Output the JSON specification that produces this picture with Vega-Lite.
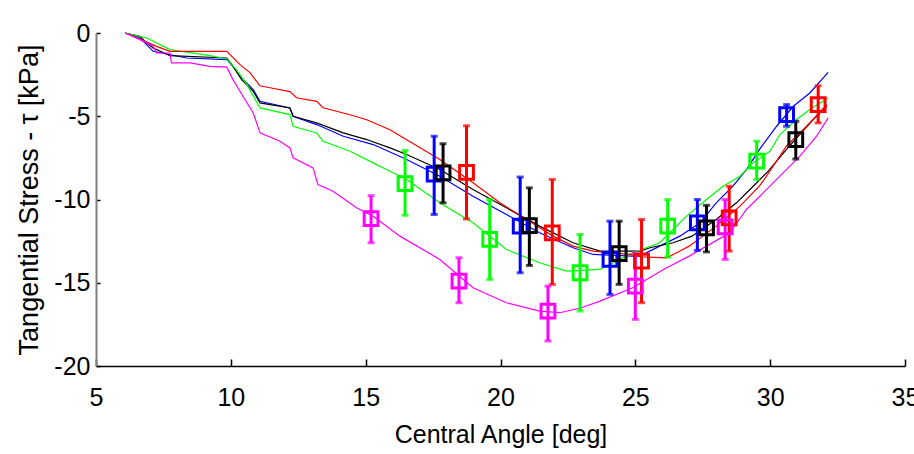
{
  "$schema": "https://vega.github.io/schema/vega-lite/v6.json",
  "autosize": "none",
  "width": 809,
  "height": 333,
  "padding": {"left": 96, "top": 33, "right": 9, "bottom": 88},
  "background": "white",
  "config": {"view": {"stroke": null}},
  "datasets": {
    "curves": [
      {"series": "blue", "angle": 6.08, "stress": 0}, {"series": "blue", "angle": 6.63, "stress": -0.3}, {"series": "blue", "angle": 7.12, "stress": -1.1}, {"series": "blue", "angle": 8.36, "stress": -1.5}, {"series": "blue", "angle": 9.85, "stress": -1.6}, {"series": "blue", "angle": 10.08, "stress": -2.0}, {"series": "blue", "angle": 10.4, "stress": -2.7}, {"series": "blue", "angle": 10.83, "stress": -3.4}, {"series": "blue", "angle": 11.08, "stress": -4.1}, {"series": "blue", "angle": 12.19, "stress": -4.5}, {"series": "blue", "angle": 12.31, "stress": -5.0}, {"series": "blue", "angle": 13.18, "stress": -5.5}, {"series": "blue", "angle": 14.17, "stress": -6.2}, {"series": "blue", "angle": 15.28, "stress": -6.7}, {"series": "blue", "angle": 16.52, "stress": -7.6}, {"series": "blue", "angle": 17.75, "stress": -8.6}, {"series": "blue", "angle": 18.98, "stress": -9.8}, {"series": "blue", "angle": 20.22, "stress": -10.9}, {"series": "blue", "angle": 21.45, "stress": -12.0}, {"series": "blue", "angle": 22.69, "stress": -12.9}, {"series": "blue", "angle": 23.43, "stress": -13.3}, {"series": "blue", "angle": 24.9, "stress": -13.4}, {"series": "blue", "angle": 25.17, "stress": -13.4}, {"series": "blue", "angle": 25.9, "stress": -12.8}, {"series": "blue", "angle": 26.65, "stress": -12.2}, {"series": "blue", "angle": 27.4, "stress": -11.4}, {"series": "blue", "angle": 28.0, "stress": -10.2}, {"series": "blue", "angle": 28.62, "stress": -9.2}, {"series": "blue", "angle": 29.12, "stress": -8.2}, {"series": "blue", "angle": 29.6, "stress": -7.0}, {"series": "blue", "angle": 30.24, "stress": -5.6}, {"series": "blue", "angle": 30.86, "stress": -4.4}, {"series": "blue", "angle": 31.47, "stress": -3.6}, {"series": "blue", "angle": 32.15, "stress": -2.37},
      {"series": "black", "angle": 6.08, "stress": 0}, {"series": "black", "angle": 6.63, "stress": -0.2}, {"series": "black", "angle": 6.88, "stress": -0.6}, {"series": "black", "angle": 7.12, "stress": -0.9}, {"series": "black", "angle": 7.74, "stress": -1.36}, {"series": "black", "angle": 9.85, "stress": -1.5}, {"series": "black", "angle": 10.08, "stress": -2.0}, {"series": "black", "angle": 10.4, "stress": -2.8}, {"series": "black", "angle": 10.83, "stress": -3.5}, {"series": "black", "angle": 11.08, "stress": -4.2}, {"series": "black", "angle": 12.19, "stress": -4.5}, {"series": "black", "angle": 12.31, "stress": -5.0}, {"series": "black", "angle": 13.18, "stress": -5.4}, {"series": "black", "angle": 14.17, "stress": -6.0}, {"series": "black", "angle": 15.04, "stress": -6.4}, {"series": "black", "angle": 15.9, "stress": -6.9}, {"series": "black", "angle": 16.52, "stress": -7.3}, {"series": "black", "angle": 17.75, "stress": -8.2}, {"series": "black", "angle": 18.98, "stress": -9.4}, {"series": "black", "angle": 20.22, "stress": -10.5}, {"series": "black", "angle": 21.45, "stress": -11.6}, {"series": "black", "angle": 22.69, "stress": -12.6}, {"series": "black", "angle": 23.69, "stress": -13.1}, {"series": "black", "angle": 25.17, "stress": -13.1}, {"series": "black", "angle": 25.54, "stress": -12.9}, {"series": "black", "angle": 26.4, "stress": -12.6}, {"series": "black", "angle": 27.1, "stress": -12.2}, {"series": "black", "angle": 28.0, "stress": -11.2}, {"series": "black", "angle": 28.75, "stress": -10.2}, {"series": "black", "angle": 29.25, "stress": -9.4}, {"series": "black", "angle": 29.93, "stress": -8.3}, {"series": "black", "angle": 30.6, "stress": -7.0}, {"series": "black", "angle": 31.2, "stress": -5.9}, {"series": "black", "angle": 31.6, "stress": -5.2}, {"series": "black", "angle": 32.1, "stress": -4.4},
      {"series": "green", "angle": 6.08, "stress": 0}, {"series": "green", "angle": 6.88, "stress": -0.3}, {"series": "green", "angle": 7.74, "stress": -1.0}, {"series": "green", "angle": 9.23, "stress": -1.36}, {"series": "green", "angle": 9.85, "stress": -1.56}, {"series": "green", "angle": 10.2, "stress": -2.2}, {"series": "green", "angle": 10.6, "stress": -3.1}, {"series": "green", "angle": 11.08, "stress": -4.5}, {"series": "green", "angle": 12.19, "stress": -4.9}, {"series": "green", "angle": 12.31, "stress": -5.6}, {"series": "green", "angle": 13.18, "stress": -6.0}, {"series": "green", "angle": 13.42, "stress": -6.5}, {"series": "green", "angle": 14.42, "stress": -7.1}, {"series": "green", "angle": 15.28, "stress": -7.8}, {"series": "green", "angle": 15.9, "stress": -8.3}, {"series": "green", "angle": 16.52, "stress": -8.8}, {"series": "green", "angle": 17.75, "stress": -10.2}, {"series": "green", "angle": 18.98, "stress": -11.4}, {"series": "green", "angle": 20.22, "stress": -13.0}, {"series": "green", "angle": 21.45, "stress": -13.8}, {"series": "green", "angle": 22.45, "stress": -14.3}, {"series": "green", "angle": 23.69, "stress": -14.2}, {"series": "green", "angle": 24.9, "stress": -13.2}, {"series": "green", "angle": 25.9, "stress": -12.6}, {"series": "green", "angle": 26.4, "stress": -11.8}, {"series": "green", "angle": 26.9, "stress": -11.0}, {"series": "green", "angle": 27.64, "stress": -10.0}, {"series": "green", "angle": 28.25, "stress": -9.2}, {"series": "green", "angle": 28.88, "stress": -8.6}, {"series": "green", "angle": 29.36, "stress": -7.8}, {"series": "green", "angle": 29.99, "stress": -7.1}, {"series": "green", "angle": 30.36, "stress": -6.1}, {"series": "green", "angle": 30.98, "stress": -5.2}, {"series": "green", "angle": 31.47, "stress": -4.6}, {"series": "green", "angle": 32.15, "stress": -3.9},
      {"series": "red", "angle": 6.08, "stress": 0}, {"series": "red", "angle": 6.63, "stress": -0.36}, {"series": "red", "angle": 7.25, "stress": -0.8}, {"series": "red", "angle": 7.74, "stress": -1.1}, {"series": "red", "angle": 9.85, "stress": -1.1}, {"series": "red", "angle": 10.08, "stress": -1.48}, {"series": "red", "angle": 10.34, "stress": -1.9}, {"series": "red", "angle": 10.71, "stress": -2.38}, {"series": "red", "angle": 11.08, "stress": -3.17}, {"series": "red", "angle": 11.45, "stress": -3.29}, {"series": "red", "angle": 12.19, "stress": -3.52}, {"series": "red", "angle": 12.44, "stress": -3.89}, {"series": "red", "angle": 13.18, "stress": -4.11}, {"series": "red", "angle": 13.42, "stress": -4.49}, {"series": "red", "angle": 14.42, "stress": -4.91}, {"series": "red", "angle": 15.04, "stress": -5.21}, {"series": "red", "angle": 15.9, "stress": -5.81}, {"series": "red", "angle": 16.52, "stress": -6.41}, {"series": "red", "angle": 17.75, "stress": -7.6}, {"series": "red", "angle": 18.98, "stress": -9.0}, {"series": "red", "angle": 19.98, "stress": -10.2}, {"series": "red", "angle": 20.97, "stress": -11.2}, {"series": "red", "angle": 21.95, "stress": -12.2}, {"series": "red", "angle": 22.69, "stress": -12.8}, {"series": "red", "angle": 23.43, "stress": -13.1}, {"series": "red", "angle": 24.8, "stress": -13.3}, {"series": "red", "angle": 25.28, "stress": -13.45}, {"series": "red", "angle": 26.16, "stress": -13.5}, {"series": "red", "angle": 26.53, "stress": -13.2}, {"series": "red", "angle": 27.0, "stress": -12.8}, {"series": "red", "angle": 28.0, "stress": -11.6}, {"series": "red", "angle": 28.88, "stress": -10.4}, {"series": "red", "angle": 29.6, "stress": -9.2}, {"series": "red", "angle": 29.99, "stress": -8.3}, {"series": "red", "angle": 30.6, "stress": -6.8}, {"series": "red", "angle": 31.35, "stress": -5.6}, {"series": "red", "angle": 32.1, "stress": -4.3},
      {"series": "magenta", "angle": 6.08, "stress": 0}, {"series": "magenta", "angle": 6.63, "stress": -0.4}, {"series": "magenta", "angle": 7.12, "stress": -0.8}, {"series": "magenta", "angle": 7.25, "stress": -1.2}, {"series": "magenta", "angle": 7.74, "stress": -1.2}, {"series": "magenta", "angle": 7.8, "stress": -1.8}, {"series": "magenta", "angle": 8.48, "stress": -1.8}, {"series": "magenta", "angle": 9.23, "stress": -2.0}, {"series": "magenta", "angle": 9.85, "stress": -2.05}, {"series": "magenta", "angle": 10.08, "stress": -2.8}, {"series": "magenta", "angle": 10.45, "stress": -3.8}, {"series": "magenta", "angle": 10.83, "stress": -4.8}, {"series": "magenta", "angle": 11.08, "stress": -6.0}, {"series": "magenta", "angle": 11.82, "stress": -6.5}, {"series": "magenta", "angle": 12.19, "stress": -6.9}, {"series": "magenta", "angle": 12.31, "stress": -7.5}, {"series": "magenta", "angle": 13.05, "stress": -8.1}, {"series": "magenta", "angle": 13.23, "stress": -9.1}, {"series": "magenta", "angle": 13.79, "stress": -9.5}, {"series": "magenta", "angle": 14.66, "stress": -10.5}, {"series": "magenta", "angle": 15.28, "stress": -11.0}, {"series": "magenta", "angle": 16.27, "stress": -12.2}, {"series": "magenta", "angle": 17.75, "stress": -13.6}, {"series": "magenta", "angle": 18.98, "stress": -15.3}, {"series": "magenta", "angle": 20.22, "stress": -16.2}, {"series": "magenta", "angle": 21.45, "stress": -16.7}, {"series": "magenta", "angle": 22.2, "stress": -16.8}, {"series": "magenta", "angle": 23.0, "stress": -16.5}, {"series": "magenta", "angle": 23.69, "stress": -16.1}, {"series": "magenta", "angle": 24.9, "stress": -15.3}, {"series": "magenta", "angle": 26.16, "stress": -14.1}, {"series": "magenta", "angle": 27.0, "stress": -13.4}, {"series": "magenta", "angle": 27.64, "stress": -12.8}, {"series": "magenta", "angle": 28.5, "stress": -12.0}, {"series": "magenta", "angle": 29.12, "stress": -10.6}, {"series": "magenta", "angle": 29.99, "stress": -9.2}, {"series": "magenta", "angle": 30.36, "stress": -8.6}, {"series": "magenta", "angle": 31.1, "stress": -7.4}, {"series": "magenta", "angle": 31.72, "stress": -6.2}, {"series": "magenta", "angle": 32.15, "stress": -5.1}
    ],
    "points": [
      {"series": "blue", "angle": 17.54, "stress": -8.47, "lo": -10.9, "hi": -6.2},
      {"series": "blue", "angle": 20.73, "stress": -11.6, "lo": -14.4, "hi": -8.65},
      {"series": "blue", "angle": 24.06, "stress": -13.6, "lo": -15.7, "hi": -11.3},
      {"series": "blue", "angle": 27.3, "stress": -11.4, "lo": -13.06, "hi": -10.0},
      {"series": "blue", "angle": 30.61, "stress": -4.9, "lo": -5.6, "hi": -4.3},
      {"series": "black", "angle": 17.87, "stress": -8.4, "lo": -10.2, "hi": -6.65},
      {"series": "black", "angle": 21.07, "stress": -11.57, "lo": -13.96, "hi": -9.3},
      {"series": "black", "angle": 24.4, "stress": -13.25, "lo": -15.1, "hi": -11.3},
      {"series": "black", "angle": 27.64, "stress": -11.7, "lo": -13.15, "hi": -10.35},
      {"series": "black", "angle": 30.95, "stress": -6.4, "lo": -7.57, "hi": -5.3},
      {"series": "green", "angle": 16.46, "stress": -9.05, "lo": -10.95, "hi": -7.05},
      {"series": "green", "angle": 19.6, "stress": -12.4, "lo": -14.8, "hi": -10.0},
      {"series": "green", "angle": 22.95, "stress": -14.4, "lo": -16.7, "hi": -12.1},
      {"series": "green", "angle": 26.2, "stress": -11.6, "lo": -13.45, "hi": -10.0},
      {"series": "green", "angle": 29.5, "stress": -7.7, "lo": -8.8, "hi": -6.5},
      {"series": "red", "angle": 18.74, "stress": -8.37, "lo": -11.17, "hi": -5.57},
      {"series": "red", "angle": 21.92, "stress": -12.0, "lo": -15.1, "hi": -8.8},
      {"series": "red", "angle": 25.23, "stress": -13.7, "lo": -16.2, "hi": -11.2},
      {"series": "red", "angle": 28.48, "stress": -11.1, "lo": -13.1, "hi": -9.2},
      {"series": "red", "angle": 31.78, "stress": -4.3, "lo": -5.4, "hi": -3.17},
      {"series": "magenta", "angle": 15.2, "stress": -11.15, "lo": -12.6, "hi": -9.77},
      {"series": "magenta", "angle": 18.46, "stress": -14.9, "lo": -16.2, "hi": -13.5},
      {"series": "magenta", "angle": 21.76, "stress": -16.7, "lo": -18.5, "hi": -15.2},
      {"series": "magenta", "angle": 25.0, "stress": -15.2, "lo": -17.2, "hi": -13.2},
      {"series": "magenta", "angle": 28.33, "stress": -11.65, "lo": -13.6, "hi": -10.0}
    ]
  },
  "encoding": {
    "x": {
      "field": "angle", "type": "quantitative",
      "scale": {"domain": [5, 35], "nice": false, "zero": false},
      "axis": {
        "title": "Central Angle [deg]",
        "values": [5, 10, 15, 20, 25, 30, 35],
        "grid": false,
        "domainColor": "#000000", "domainWidth": 1.5,
        "tickColor": "#000000", "tickSize": -7, "tickWidth": 1.5,
        "labelFont": "Liberation Sans", "labelFontSize": 25, "labelColor": "#000000",
        "labelExpr": "replace(datum.label, '−', '-')",
        "labelPadding": 26, "labelFlush": false, "labelOverlap": false,
        "titleFont": "Liberation Sans", "titleFontSize": 25, "titleFontWeight": "normal", "titleColor": "#000000",
        "titlePadding": 12
      }
    },
    "y": {
      "field": "stress", "type": "quantitative",
      "scale": {"domain": [-20, 0], "nice": false, "zero": false},
      "axis": {
        "title": "Tangential Stress - τ [kPa]",
        "values": [-20, -15, -10, -5, 0],
        "grid": false,
        "domainColor": "#808080", "domainWidth": 2,
        "tickColor": "#000000", "tickSize": -4, "tickWidth": 1.5,
        "labelFont": "Liberation Sans", "labelFontSize": 25, "labelColor": "#000000",
        "labelExpr": "replace(datum.label, '−', '-')",
        "labelPadding": 10, "labelFlush": false, "labelOverlap": false,
        "titleFont": "Liberation Sans", "titleFontSize": 27, "titleFontWeight": "normal", "titleColor": "#000000",
        "titlePadding": 10
      }
    },
    "color": {
      "field": "series", "type": "nominal",
      "scale": {"domain": ["blue", "black", "green", "red", "magenta"], "range": ["#0000ff", "#000000", "#00ff00", "#ff0000", "#ff00ff"]},
      "legend": null
    }
  },
  "layer": [
    {"data": {"name": "curves"}, "mark": {"type": "line", "strokeWidth": 1.2}, "encoding": {"detail": {"field": "series"}}},
    {"data": {"name": "points"}, "mark": {"type": "rule", "strokeWidth": 3}, "encoding": {"y": {"field": "lo", "type": "quantitative"}, "y2": {"field": "hi"}}},
    {"data": {"name": "points"}, "mark": {"type": "tick", "orient": "horizontal", "size": 7, "thickness": 3}, "encoding": {"y": {"field": "lo", "type": "quantitative"}}},
    {"data": {"name": "points"}, "mark": {"type": "tick", "orient": "horizontal", "size": 7, "thickness": 3}, "encoding": {"y": {"field": "hi", "type": "quantitative"}}},
    {"data": {"name": "points"}, "mark": {"type": "point", "shape": "square", "size": 190, "strokeWidth": 3, "filled": false, "opacity": 1}}
  ]
}
